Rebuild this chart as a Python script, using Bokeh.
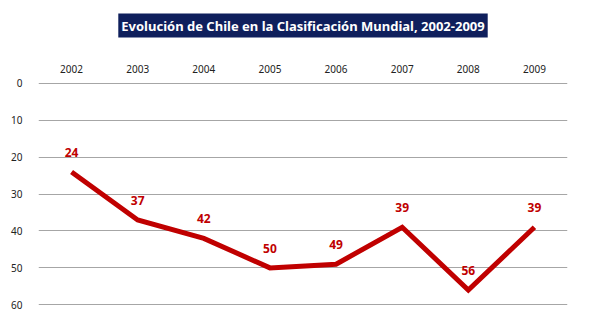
from bokeh.plotting import figure
from bokeh.models import ColumnDataSource, Range1d, FactorRange, FixedTicker, LabelSet, Title
from bokeh.core.properties import value
from bokeh.embed import file_html
from bokeh.resources import INLINE

years = ["2002", "2003", "2004", "2005", "2006", "2007", "2008", "2009"]
ranking = [24, 37, 42, 50, 49, 39, 56, 39]
y_ticks = [0, 10, 20, 30, 40, 50, 60]
title_text = "Evolución de Chile en la Clasificación Mundial, 2002-2009"

FONT = "Noto Sans"
RED = "#c00000"

src = ColumnDataSource(dict(x=years, y=ranking, lab=[str(v) for v in ranking]))

title = Title(text=title_text, align="center", text_font=FONT,
              text_font_size="13px", text_font_style="bold", text_color="white",
              background_fill_color="#0f1f5c", padding=3)

p = figure(width=600, height=330, x_range=FactorRange(*years), y_range=Range1d(62.9, -0.5),
           output_backend="svg", toolbar_location=None, x_axis_location="above",
           title=title,
           min_border_left=38, min_border_right=33, min_border_top=81, min_border_bottom=15)
p.add_layout(Title(text=" ", text_font_size="7px"), "above")
p.outline_line_color = None
p.background_fill_color = "white"
p.border_fill_color = "white"

p.xgrid.grid_line_color = None
p.ygrid.grid_line_color = "#a6a6a6"
p.ygrid.grid_line_width = 1
p.ygrid.ticker = FixedTicker(ticks=y_ticks)

for ax in (p.xaxis[0], p.yaxis[0]):
    ax.axis_line_color = None
    ax.major_tick_line_color = None
    ax.minor_tick_line_color = None
    ax.major_label_text_font = FONT
    ax.major_label_text_font_size = "10px"
    ax.major_label_text_color = "#222222"
p.yaxis.ticker = FixedTicker(ticks=y_ticks)
p.yaxis.major_label_standoff = 10
p.xaxis.major_label_standoff = 3

p.line("x", "y", source=src, line_color=RED, line_width=5, line_join="miter")

labels = LabelSet(x="x", y="y", text="lab", source=src, y_offset=15,
                  text_align="center", text_baseline="bottom",
                  text_font=value(FONT), text_font_size="12px", text_font_style="bold",
                  text_color=RED)
p.add_layout(labels)

open("out.html", "w").write(file_html(p, INLINE))
